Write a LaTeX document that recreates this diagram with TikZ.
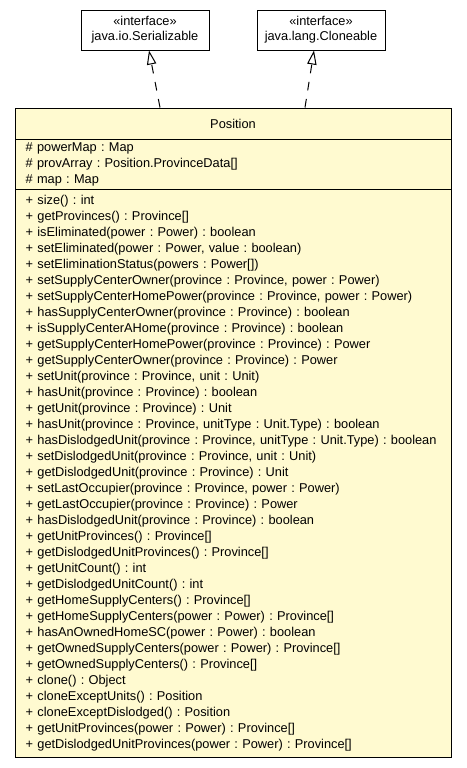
\documentclass[tikz,border=0pt]{standalone}
\usepackage{fontspec}
\setmainfont{Liberation Sans}
\usetikzlibrary{arrows.meta,shadows}
\frenchspacing

\definecolor{classfill}{RGB}{255,250,208}

\tikzset{
	iface/.style={draw=black, fill=white, line width=0.75pt, minimum width=96pt, minimum height=30pt, align=center, inner sep=0pt, font=\fontsize{9.6}{11.25}\selectfont, drop shadow={shadow xshift=0.75pt, shadow yshift=-0.75pt, fill=gray!60, opacity=1}},
	part/.style={draw=black, fill=classfill, line width=0.75pt, minimum width=327pt, inner sep=0pt, font=\fontsize{9.6}{12}\selectfont},
	members/.style={part, text width=311pt, align=left, inner xsep=8pt},
	realize/.style={-{Triangle[open, length=10.5pt, width=7pt]}, dash pattern=on 6.5pt off 6.5pt, line width=0.75pt}
}

\begin{document}
\begin{tikzpicture}[x=0.75pt, y=-0.75pt]
\useasboundingbox (0,0) rectangle (467,768);

\node (ser) at (145,30) [iface] {«interface»\\java.io.Serializable};
\node (clo) at (321,30) [iface] {«interface»\\java.lang.Cloneable};

\fill [gray!60] (16,109) rectangle (452,758);
\node (pos) at (233,123.5) [part, minimum height=23.25pt] {Position};
\node (attrs) at (233,164) [members, minimum height=37.5pt] {%
\# powerMap : Map\\
\# provArray : Position.ProvinceData[]\\
\# map : Map};
\node (ops) at (233,473) [members, minimum height=426pt] {%
+ size() : int\\
+ getProvinces() : Province[]\\
+ isEliminated(power : Power) : boolean\\
+ setEliminated(power : Power, value : boolean)\\
+ setEliminationStatus(powers : Power[])\\
+ setSupplyCenterOwner(province : Province, power : Power)\\
+ setSupplyCenterHomePower(province : Province, power : Power)\\
+ hasSupplyCenterOwner(province : Province) : boolean\\
+ isSupplyCenterAHome(province : Province) : boolean\\
+ getSupplyCenterHomePower(province : Province) : Power\\
+ getSupplyCenterOwner(province : Province) : Power\\
+ setUnit(province : Province, unit : Unit)\\
+ hasUnit(province : Province) : boolean\\
+ getUnit(province : Province) : Unit\\
+ hasUnit(province : Province, unitType : Unit.Type) : boolean\\
+ hasDislodgedUnit(province : Province, unitType : Unit.Type) : boolean\\
+ setDislodgedUnit(province : Province, unit : Unit)\\
+ getDislodgedUnit(province : Province) : Unit\\
+ setLastOccupier(province : Province, power : Power)\\
+ getLastOccupier(province : Province) : Power\\
+ hasDislodgedUnit(province : Province) : boolean\\
+ getUnitProvinces() : Province[]\\
+ getDislodgedUnitProvinces() : Province[]\\
+ getUnitCount() : int\\
+ getDislodgedUnitCount() : int\\
+ getHomeSupplyCenters() : Province[]\\
+ getHomeSupplyCenters(power : Power) : Province[]\\
+ hasAnOwnedHomeSC(power : Power) : boolean\\
+ getOwnedSupplyCenters(power : Power) : Province[]\\
+ getOwnedSupplyCenters() : Province[]\\
+ clone() : Object\\
+ cloneExceptUnits() : Position\\
+ cloneExceptDislodged() : Position\\
+ getUnitProvinces(power : Power) : Province[]\\
+ getDislodgedUnitProvinces(power : Power) : Province[]};

\draw [realize] ([xshift=-54.75pt]pos.north) -- ([xshift=3pt]ser.south);
\draw [realize] ([xshift=54pt]pos.north) -- ([xshift=-5.25pt]clo.south);

\end{tikzpicture}
\end{document}
